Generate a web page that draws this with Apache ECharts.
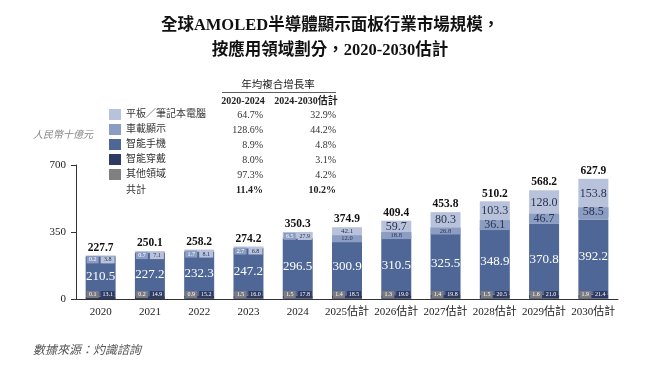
<!DOCTYPE html>
<html><head><meta charset="utf-8">
<script src="https://cdn.jsdelivr.net/npm/echarts@6/dist/echarts.min.js"></script>
<style>html,body{margin:0;padding:0;background:#fff}#c{width:660px;height:371px}</style>
</head><body><div id="c"></div>
<script>
const categories = ['2020','2021','2022','2023','2024','2025估計','2026估計','2027估計','2028估計','2029估計','2030估計'];
const other    = [0.1,0.2,0.9,1.5,1.5,1.4,1.3,1.4,1.5,1.6,1.9];
const wearable = [13.1,14.9,15.2,16.0,17.8,18.5,19.0,19.8,20.5,21.0,21.4];
const phone    = [210.5,227.2,232.3,247.2,296.5,300.9,310.5,325.5,348.9,370.8,392.2];
const auto     = [0.2,0.7,1.7,2.7,6.5,12.0,18.8,26.8,36.1,46.7,58.5];
const tablet   = [3.8,7.1,8.1,6.8,27.9,42.1,59.7,80.3,103.3,128.0,153.8];
const totals   = [227.7,250.1,258.2,274.2,350.3,374.9,409.4,453.8,510.2,568.2,627.9];
const yTicks   = [0,350,700];
const legendNames = ['平板／筆記本電腦','車載顯示','智能手機','智能穿戴','其他領域'];
const cagrA = ['64.7%','128.6%','8.9%','8.0%','97.3%'];
const cagrB = ['32.9%','44.2%','4.8%','3.1%','4.2%'];
const cagrTotal = ['11.4%','10.2%'];

const SERIF = '"Liberation Serif","Times New Roman","Noto Sans CJK TC",serif';
const C = {tablet:'#b8c2da', auto:'#8c9dc3', phone:'#4f6796', wear:'#2e3b62', other:'#808080'};
const DARK = '#2a3350';
const BW = 30;

const chart = echarts.init(document.getElementById('c'));

function fmt(v){ return v.toFixed(1); }

const tabletData = tablet.map((v,i)=>{
  let label;
  if (i <= 4) {
    label = {show:true, position:['50%','0%'], align:'center', verticalAlign:'top', offset:[0,1],
      formatter: ()=>'{a|'+fmt(auto[i])+'}{s|}{b|'+fmt(v)+'}',
      rich:{a:{backgroundColor:C.auto,color:'#fff',fontSize:6,width:12,height:7,align:'center',fontFamily:SERIF},
            s:{width:2,height:7},
            b:{backgroundColor:C.tablet,color:DARK,fontSize:6,width:14,height:7,align:'center',fontFamily:SERIF}}};
  } else if (i === 5) {
    label = {show:true, position:'inside', color:DARK, fontSize:7, fontFamily:SERIF, formatter:()=>fmt(v)};
  } else {
    label = {show:true, position:'inside', color:DARK, fontSize:12, fontFamily:SERIF, formatter:()=>fmt(v)};
  }
  return {value:v, label};
});
const autoData = auto.map((v,i)=>{
  let label;
  if (i <= 4) label = {show:false};
  else if (i <= 7) label = {show:true, position:['50%','0%'], align:'center', verticalAlign:'top',
      formatter:()=>'{a|'+fmt(v)+'}',
      rich:{a:{backgroundColor:C.auto,color:DARK,fontSize:6.5,width:BW,height:7,align:'center',fontFamily:SERIF}}};
  else label = {show:true, position:['50%','0%'], align:'center', verticalAlign:'top', offset:[0,-1],
      formatter:()=>'{a|'+fmt(v)+'}',
      rich:{a:{backgroundColor:C.auto,color:DARK,fontSize:12,width:BW,height:10,lineHeight:10,align:'center',fontFamily:SERIF}}};
  return {value:v, label};
});
const otherData = other.map((v,i)=>({value:v, label:{show:true, position:['50%','100%'], align:'center', verticalAlign:'bottom', offset:[0,-1],
  formatter:()=>'{g|'+fmt(v)+'}{s|}{n|'+fmt(wearable[i])+'}',
  rich:{g:{backgroundColor:'#7a7a80',color:'#fff',fontSize:6,width:12,height:7,align:'center',fontFamily:SERIF},
        s:{width:2,height:7},
        n:{backgroundColor:C.wear,color:'#fff',fontSize:6,width:14,height:7,align:'center',fontFamily:SERIF}}}}));

const option = {
  backgroundColor:'#fff',
  animation:false,
  title:{text:'全球AMOLED半導體顯示面板行業市場規模，\n按應用領域劃分，2020-2030估計', left:'center', top:8,
    textStyle:{fontFamily:SERIF, fontWeight:'bold', fontSize:16.5, lineHeight:25, color:'#111'}},
  legend:{data:legendNames, orient:'vertical', left:109, top:109, padding:0, itemWidth:12, itemHeight:11, itemGap:4,
    icon:'rect', textStyle:{fontFamily:SERIF, fontSize:10, color:'#333'}, selectedMode:false},
  grid:{left:76, right:42, top:165, bottom:72, containLabel:false},
  xAxis:{type:'category', data:categories, axisTick:{show:false},
    axisLine:{lineStyle:{color:'#333', width:1}},
    axisLabel:{interval:0, fontFamily:SERIF, fontSize:11, color:'#222', margin:8}},
  yAxis:{type:'value', min:0, max:700, interval:350, splitLine:{show:false},
    axisLine:{show:true, lineStyle:{color:'#333', width:1}},
    axisTick:{show:true, length:5, lineStyle:{color:'#333'}},
    axisLabel:{fontFamily:SERIF, fontSize:11, color:'#222', margin:10, formatter:v=>yTicks.includes(v)?String(v):''}},
  series:[
    {name:'其他領域', type:'bar', stack:'s', barWidth:BW, itemStyle:{color:C.other}, data:otherData},
    {name:'智能穿戴', type:'bar', stack:'s', itemStyle:{color:C.wear}, data:wearable},
    {name:'智能手機', type:'bar', stack:'s', itemStyle:{color:C.phone}, data:phone,
      label:{show:true, position:'inside', color:'#fff', fontSize:13, fontFamily:SERIF, formatter:p=>fmt(p.value)}},
    {name:'車載顯示', type:'bar', stack:'s', itemStyle:{color:C.auto}, data:autoData},
    {name:'平板／筆記本電腦', type:'bar', stack:'s', itemStyle:{color:C.tablet}, data:tabletData},
    {name:'共計', type:'line', data:totals, symbolSize:0, showSymbol:true, lineStyle:{opacity:0}, z:5,
      label:{show:true, position:'top', distance:2, fontFamily:SERIF, fontWeight:'bold', fontSize:11.5, color:'#111', formatter:p=>fmt(p.value)}}
  ],
  graphic:[
    {type:'text', left:33, top:129, style:{text:'人民幣十億元', fontFamily:'"Noto Sans CJK TC",serif', fontStyle:'italic', fontSize:10, fill:'#888'}},
    {type:'text', x:278, y:85, style:{text:'年均複合增長率', fontFamily:SERIF, fontSize:10.5, fill:'#222', align:'center', verticalAlign:'middle'}},
    {type:'line', shape:{x1:222, y1:92.5, x2:336, y2:92.5}, style:{stroke:'#333', lineWidth:0.8}},
    {type:'text', x:243, y:101, style:{text:'2020-2024', fontFamily:SERIF, fontWeight:'bold', fontSize:10, fill:'#222', align:'center', verticalAlign:'middle'}},
    {type:'text', x:306, y:101, style:{text:'2024-2030估計', fontFamily:SERIF, fontWeight:'bold', fontSize:10, fill:'#222', align:'center', verticalAlign:'middle'}},
    ...cagrA.map((t,i)=>({type:'text', x:263, y:115+15*i, style:{text:t, fontFamily:SERIF, fontSize:10, fill:'#333', align:'right', verticalAlign:'middle'}})),
    ...cagrB.map((t,i)=>({type:'text', x:336, y:115+15*i, style:{text:t, fontFamily:SERIF, fontSize:10, fill:'#333', align:'right', verticalAlign:'middle'}})),
    {type:'text', x:126, y:190, style:{text:'共計', fontFamily:SERIF, fontSize:10, fill:'#333', align:'left', verticalAlign:'middle'}},
    {type:'text', x:263, y:190, style:{text:cagrTotal[0], fontFamily:SERIF, fontWeight:'bold', fontSize:10, fill:'#222', align:'right', verticalAlign:'middle'}},
    {type:'text', x:336, y:190, style:{text:cagrTotal[1], fontFamily:SERIF, fontWeight:'bold', fontSize:10, fill:'#222', align:'right', verticalAlign:'middle'}},
    {type:'text', left:33, top:343, style:{text:'數據來源：灼識諮詢', fontFamily:'"Noto Sans CJK TC",serif', fontStyle:'italic', fontSize:12, fill:'#555'}}
  ]
};
chart.setOption(option);
</script></body></html>
